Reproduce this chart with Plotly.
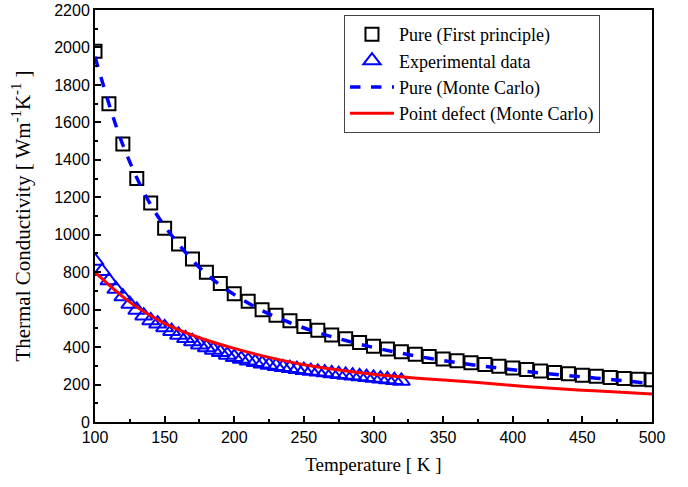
import plotly.graph_objects as go

# Pure (First principle)
temp_fp = [100, 110, 120, 130, 140, 150, 160, 170, 180, 190, 200, 210, 220, 230, 240, 250,
           260, 270, 280, 290, 300, 310, 320, 330, 340, 350, 360, 370, 380, 390, 400, 410,
           420, 430, 440, 450, 460, 470, 480, 490, 500]
k_fp = [1980, 1700, 1485, 1300, 1170, 1035, 950, 870, 800, 740, 685, 645, 600, 570, 540, 510,
        490, 465, 445, 425, 405, 390, 375, 362, 350, 337, 327, 317, 307, 298, 288, 280,
        272, 264, 257, 250, 244, 238, 232, 228, 225]

# Experimental data
temp_exp = [100, 105, 110, 115, 120, 125, 130, 135, 140, 145, 150, 155, 160, 165, 170, 175,
            180, 185, 190, 195, 200, 205, 210, 215, 220, 225, 230, 235, 240, 245, 250, 255,
            260, 265, 270, 275, 280, 285, 290, 295, 300, 305, 310, 315, 320]
k_exp = [860, 805, 755, 710, 670, 630, 598, 568, 542, 525, 505, 485, 465, 447, 430, 413,
         398, 385, 372, 358, 346, 336, 327, 319, 311, 304, 298, 292, 287, 282, 277, 272,
         268, 264, 259, 255, 251, 247, 243, 239, 235, 231, 227, 223, 219]

# Pure (Monte Carlo)
temp_mc = [100, 120, 140, 160, 180, 200, 220, 240, 260, 280, 300, 320, 340, 360, 380, 400,
           420, 440, 460, 480, 500]
k_mc = [1950, 1480, 1160, 950, 790, 680, 595, 530, 478, 435, 398, 367, 340, 317, 297, 279,
        262, 248, 234, 220, 205]

# Point defect (Monte Carlo)
temp_pd = [100, 125, 150, 175, 200, 225, 250, 275, 300, 325, 350, 375, 400, 425, 450, 475, 500]
k_pd = [800, 640, 527, 450, 393, 345, 306, 278, 255, 238, 224, 211, 195, 182, 170, 160, 150]

fig = go.Figure()
fig.add_trace(go.Scatter(
    x=temp_fp, y=k_fp, mode="markers", name="Pure (First principle)",
    marker=dict(symbol="square-open", size=13, color="black", line=dict(width=2, color="black"))))
fig.add_trace(go.Scatter(
    x=temp_exp, y=k_exp, mode="markers", name="Experimental data",
    marker=dict(symbol="triangle-up-open", size=15, color="#0000ff", line=dict(width=2, color="#0000ff"))))
fig.add_trace(go.Scatter(
    x=temp_mc, y=k_mc, mode="lines", name="Pure (Monte Carlo)",
    line=dict(color="#0000ff", width=3.5, dash="dash", shape="spline")))
fig.add_trace(go.Scatter(
    x=temp_pd, y=k_pd, mode="lines", name="Point defect (Monte Carlo)",
    line=dict(color="#ff0000", width=3, shape="spline")))

axis_common = dict(
    showline=True, linecolor="black", linewidth=2, mirror=True,
    ticks="inside", ticklen=6, tickwidth=1.5, tickcolor="black",
    showgrid=False, zeroline=False, automargin=False,
    tickfont=dict(family="Liberation Sans, Arial", size=16, color="black"),
)

fig.update_layout(
    width=688, height=487,
    margin=dict(l=95, r=36, t=10, b=65),
    paper_bgcolor="white", plot_bgcolor="white",
    showlegend=True,
    legend=dict(
        x=0.447, y=0.988, xanchor="left", yanchor="top",
        bgcolor="white", bordercolor="#444", borderwidth=1,
        font=dict(family="Liberation Serif, Times New Roman", size=18, color="black"),
        tracegroupgap=0, itemwidth=44,
    ),
    xaxis=dict(
        range=[100, 500], dtick=50, tick0=100,
        minor=dict(ticks="inside", dtick=25, ticklen=3, tickcolor="black", tickwidth=1.5),
        title=dict(text="Temperature [ K ]", standoff=12,
                   font=dict(family="Liberation Serif, Times New Roman", size=19, color="black")),
        **axis_common,
    ),
    yaxis=dict(
        range=[0, 2200], dtick=200, tick0=0,
        minor=dict(ticks="inside", dtick=100, ticklen=3, tickcolor="black", tickwidth=1.5),
        title=dict(text="Thermal Conductivity [ Wm<sup>-1</sup>K<sup>-1</sup> ]", standoff=18,
                   font=dict(family="Liberation Serif, Times New Roman", size=21, color="black")),
        **axis_common,
    ),
)

fig.write_html("out.html")
